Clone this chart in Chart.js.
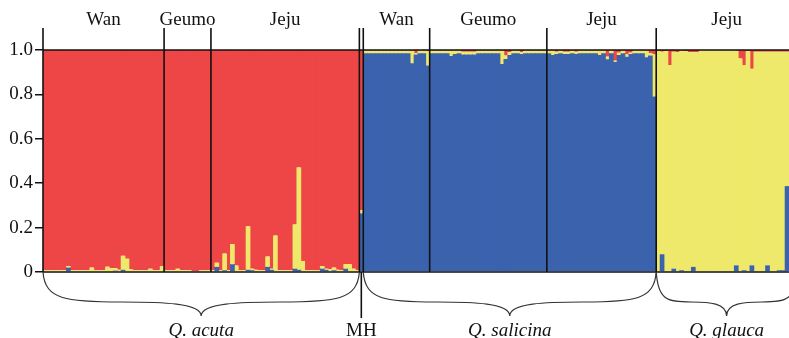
<!DOCTYPE html>
<html>
<head>
<meta charset="utf-8">
<script src="https://cdn.jsdelivr.net/npm/chart.js@4.4.1/dist/chart.umd.min.js"></script>
<style>
  html, body { margin: 0; padding: 0; background: #fff; }
  #wrap { width: 789px; height: 338px; }
</style>
</head>
<body>
<div id="wrap"><canvas id="structureChart" width="789" height="338"></canvas></div>
<script>
// Populations, left to right
const popSites = ["Wan", "Geumo", "Jeju", "MH", "Wan", "Geumo", "Jeju", "Jeju"];
const popSizes = [31, 12, 38, 1, 17, 30, 28, 34];
const speciesNames = ["Q. acuta", "Q. salicina", "Q. glauca"];
const speciesPops = [[0, 2], [4, 6], [7, 7]]; // first / last population of each species
const yTicks = [0, 0.2, 0.4, 0.6, 0.8, 1.0];

// Membership coefficients (K = 3), one value per individual
const acutaBlue = [
  0, 0, 0, 0, 0, 0, .02, 0, 0, 0,
  0, 0, 0, 0, 0, 0, 0, 0, .006, 0,
  .01, 0, 0, 0, 0, 0, 0, 0, 0, 0,
  0, 0, 0, 0, 0, 0, 0, 0, 0, 0,
  0, 0, 0, 0, .023, 0, .008, 0, .035, 0,
  0, 0, .01, .008, 0, 0, 0, .023, .01, 0,
  0, 0, 0, 0, .015, .01, 0, 0, 0, 0,
  0, .015, .01, 0, .008, 0, 0, .015, 0, 0,
  0
];
const acutaYellow = [
  .008, .008, .008, .008, .008, .008, .007, .008, .008, .008,
  .008, .008, .02, .008, .008, .008, .024, .017, .012, .01,
  .063, .06, .012, .008, .008, .008, .008, .015, .008, .008,
  .026, .008, .008, .008, .015, .008, .008, .008, .003, .003,
  .008, .008, .008, .008, .019, .008, .075, .008, .091, .029,
  .008, .008, .196, .007, .01, .008, .008, .047, .005, .164,
  .008, .008, .008, .008, .199, .461, .05, .008, .008, .008,
  .008, .012, .005, .012, .012, .01, .008, .02, .035, .015,
  .008
];
const acutaRed = [
  .992, .992, .992, .992, .992, .992, .973, .992, .992, .992,
  .992, .992, .98, .992, .992, .992, .976, .983, .982, .99,
  .927, .94, .988, .992, .992, .992, .992, .985, .992, .992,
  .974, .992, .992, .992, .985, .992, .992, .992, .997, .997,
  .992, .992, .992, .992, .958, .992, .917, .992, .874, .971,
  .992, .992, .794, .985, .99, .992, .992, .93, .985, .836,
  .992, .992, .992, .992, .786, .529, .95, .992, .992, .992,
  .992, .973, .985, .988, .98, .99, .992, .965, .965, .985,
  .992
];
const mhBlue = [.264];
const mhYellow = [.015];
const mhRed = [.721];
const salicinaBlue = [
  .985, .985, .985, .985, .985, .985, .985, .985, .985, .985,
  .985, .985, .94, .98, .985, .985, .93, .985, .985, .985,
  .985, .985, .973, .982, .985, .98, .98, .98, .98, .985,
  .985, .985, .985, .985, .985, .937, .96, .978, .985, .985,
  .982, .985, .985, .985, .985, .985, .985, .985, .977, .982,
  .985, .982, .982, .985, .982, .985, .985, .985, .985, .985,
  .977, .985, .958, .985, .946, .978, .985, .97, .982, .985,
  .985, .985, .967, .975, .79
];
const salicinaYellow = [
  .012, .012, .012, .012, .012, .012, .012, .012, .012, .012,
  .012, .012, .056, .005, .012, .012, .065, .012, .012, .012,
  .012, .012, .024, .015, .012, .012, .012, .012, .012, .012,
  .012, .012, .012, .012, .012, .06, .015, .012, .012, .012,
  .008, .012, .012, .012, .012, .012, .012, .012, .02, .01,
  .012, .01, .01, .012, .01, .012, .012, .012, .012, .012,
  .02, .012, .012, .012, .006, .01, .012, .01, .006, .012,
  .012, .012, .03, .01, .19
];
const salicinaRed = [
  .003, .003, .003, .003, .003, .003, .003, .003, .003, .003,
  .003, .003, .004, .015, .003, .003, .005, .003, .003, .003,
  .003, .003, .003, .003, .003, .008, .008, .008, .008, .003,
  .003, .003, .003, .003, .003, .003, .025, .01, .003, .003,
  .01, .003, .003, .003, .003, .003, .003, .003, .003, .008,
  .003, .008, .008, .003, .008, .003, .003, .003, .003, .003,
  .003, .003, .03, .003, .048, .012, .003, .02, .012, .003,
  .003, .003, .003, .015, .02
];
const glaucaBlue = [
  0, .08, 0, 0, .015, 0, .008, 0, 0, .023,
  0, 0, 0, 0, 0, 0, 0, 0, 0, 0,
  .03, 0, .008, 0, .03, 0, 0, 0, .03, 0,
  0, .008, .008, .387
];
const glaucaYellow = [
  .995, .912, .995, .932, .977, .99, .989, .995, .99, .967,
  .99, .998, .998, .998, .998, .998, .998, .998, .998, .998,
  .967, .962, .924, .994, .885, .992, .992, .992, .962, .992,
  .992, .984, .984, .605
];
const glaucaRed = [
  .005, .008, .005, .068, .008, .01, .003, .005, .01, .01,
  .01, .002, .002, .002, .002, .002, .002, .002, .002, .002,
  .003, .038, .068, .006, .085, .008, .008, .008, .008, .008,
  .008, .008, .008, .008
];

const clusterBlue = [...acutaBlue, ...mhBlue, ...salicinaBlue, ...glaucaBlue];
const clusterYellow = [...acutaYellow, ...mhYellow, ...salicinaYellow, ...glaucaYellow];
const clusterRed = [...acutaRed, ...mhRed, ...salicinaRed, ...glaucaRed];

// individual labels and population start indices
const labels = [];
const popStarts = [];
popSites.forEach((site, p) => {
  popStarts.push(labels.length);
  for (let k = 0; k < popSizes[p]; k++) labels.push(site + " " + (k + 1));
});
popStarts.push(labels.length);

const serif = '"Liberation Serif", "Times New Roman", serif';
const ink = "#111";

function brace(ctx, x1, x2, yTop) {
  const h = (x2 - x1) / 2;
  const xm = x1 + h;
  const yMid = yTop + 30;
  const yTip = yTop + 44;
  ctx.beginPath();
  ctx.moveTo(x1, yTop);
  ctx.bezierCurveTo(x1 + 2, yMid - 2, x1 + h * 0.15, yMid, x1 + h * 0.5, yMid);
  ctx.bezierCurveTo(xm - h * 0.25, yMid, xm, yMid + 1, xm, yTip);
  ctx.bezierCurveTo(xm, yMid + 1, xm + h * 0.25, yMid, xm + h * 0.5, yMid);
  ctx.bezierCurveTo(x2 - h * 0.15, yMid, x2 - 2, yMid - 2, x2, yTop);
  ctx.stroke();
}

const overlay = {
  id: "overlay",
  afterDatasetsDraw(chart) {
    const { ctx, chartArea: a, scales: { x, y } } = chart;
    const w = x.width / labels.length;
    const edge = (i) => (i >= labels.length ? a.right + 8 : x.getPixelForValue(i) - w / 2);
    const top = 28;
    const y0 = y.getPixelForValue(0);
    const y1 = y.getPixelForValue(1);

    ctx.save();
    ctx.strokeStyle = ink;
    ctx.lineWidth = 1.6;
    ctx.beginPath();
    ctx.moveTo(a.left, top);
    ctx.lineTo(a.left, y0);
    for (let p = 1; p < popSites.length; p++) {
      const xe = edge(popStarts[p]);
      ctx.moveTo(xe, top);
      ctx.lineTo(xe, y0);
    }
    ctx.moveTo(a.left, y1);
    ctx.lineTo(a.right, y1);
    ctx.moveTo(a.left, y0);
    ctx.lineTo(a.right, y0);
    // MH stem
    const mhIdx = popSites.indexOf("MH");
    const xMh = x.getPixelForValue(popStarts[mhIdx]);
    ctx.moveTo(xMh, y0);
    ctx.lineTo(xMh, y0 + 46);
    ctx.stroke();

    // braces
    ctx.lineWidth = 1.2;
    ctx.strokeStyle = "#333";
    speciesPops.forEach(([p1, p2]) => brace(ctx, edge(popStarts[p1]), edge(popStarts[p2 + 1]), y0));

    // texts
    ctx.fillStyle = ink;
    ctx.textAlign = "center";
    ctx.textBaseline = "alphabetic";
    ctx.font = "19px " + serif;
    popSites.forEach((site, p) => {
      if (site === "MH") return;
      const cx = (edge(popStarts[p]) + edge(popStarts[p + 1])) / 2;
      ctx.fillText(site, cx, 25);
    });
    ctx.fillText("MH", xMh, 336);
    ctx.font = "italic 19px " + serif;
    speciesPops.forEach(([p1, p2], s) => {
      const cx = (edge(popStarts[p1]) + edge(popStarts[p2 + 1])) / 2;
      ctx.fillText(speciesNames[s], cx, 336);
    });
    ctx.restore();
  },
};

new Chart(document.getElementById("structureChart"), {
  type: "bar",
  data: {
    labels: labels,
    datasets: [
      { label: "K1", data: clusterBlue, backgroundColor: "#3a62ad" },
      { label: "K2", data: clusterYellow, backgroundColor: "#efe96b" },
      { label: "K3", data: clusterRed, backgroundColor: "#ee4647" },
    ],
  },
  options: {
    responsive: false,
    animation: false,
    events: [],
    barPercentage: 1.2,
    categoryPercentage: 1,
    borderWidth: 0,
    inflateAmount: 0,
    layout: { padding: { top: 50, bottom: 66, left: 0, right: 0 } },
    plugins: { legend: { display: false }, tooltip: { enabled: false } },
    scales: {
      x: { stacked: true, display: false },
      y: {
        stacked: true,
        min: 0,
        max: 1,
        afterFit: (scale) => { scale.width = 43; },
        afterBuildTicks: (scale) => { scale.ticks = yTicks.map((v) => ({ value: v })); },
        border: { display: false },
        grid: { drawOnChartArea: false, drawTicks: true, tickLength: 8, color: ink, lineWidth: 1.5 },
        ticks: {
          padding: 2,
          color: ink,
          font: { family: serif, size: 19 },
          callback: (v) => (v === 0 ? "0" : v.toFixed(1)),
        },
      },
    },
  },
  plugins: [overlay],
});
</script>
</body>
</html>
